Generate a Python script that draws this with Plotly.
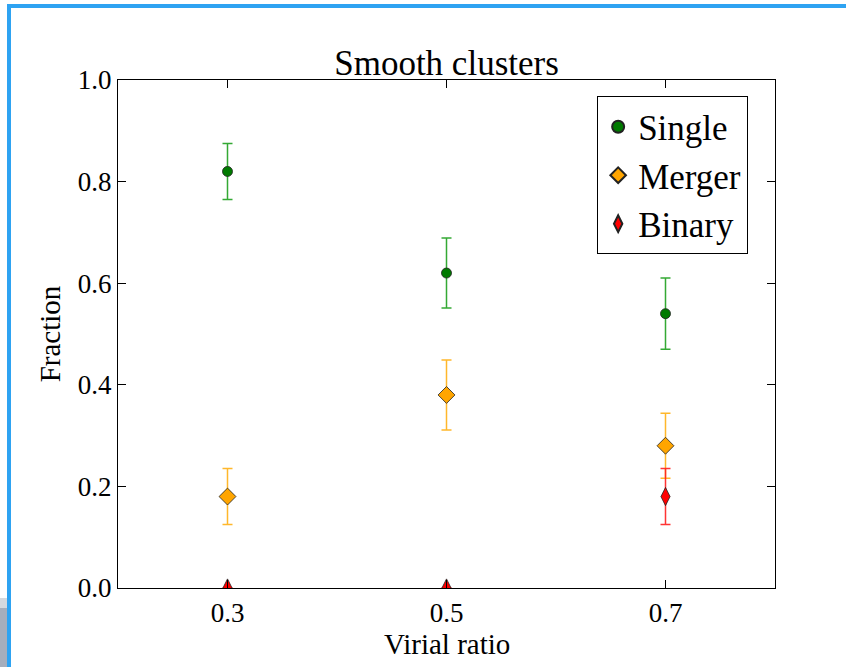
import plotly.graph_objects as go

virial = [0.3, 0.5, 0.7]
single = [0.82, 0.62, 0.54]
single_err = [0.055, 0.069, 0.07]
merger = [0.18, 0.38, 0.28]
merger_err = [0.055, 0.069, 0.064]
binary = [0.0, 0.0, 0.18]
binary_err = [0.0, 0.0, 0.055]

series = [
    ("Single", single, single_err, "#007a00", "rgba(30,160,30,0.9)", "circle", 10),
    ("Merger", merger, merger_err, "#FFA500", "rgba(255,175,20,0.9)", "diamond", 13),
    ("Binary", binary, binary_err, "#FF0000", "rgba(255,30,30,0.9)", "diamond-tall", 13),
]

fig = go.Figure()
for i, (name, vals, errs, mc, ec, sym, sz) in enumerate(series):
    fig.add_trace(go.Scatter(
        x=virial, y=vals, name=name, mode="markers",
        legendgroup=name,
        marker=dict(color=mc, symbol=sym, size=sz, line=dict(color="#222", width=0.8)),
        error_y=dict(type="data", array=errs, visible=True, color=ec, thickness=1.5, width=5),
        cliponaxis=True,
    ))

font_family = "Liberation Serif"
axis_common = dict(
    showline=True, linecolor="black", linewidth=1.2, mirror="ticks",
    ticks="inside", ticklen=8, tickwidth=1, tickcolor="black",
    showgrid=False, zeroline=False,
    tickfont=dict(family=font_family, size=27, color="black"),
)

fig.update_layout(
    width=846, height=667,
    margin=dict(l=118, r=71, t=80, b=79),
    paper_bgcolor="white", plot_bgcolor="white",
    title=dict(text="Smooth clusters", x=0.5, xref="paper", xanchor="center",
               y=1, yref="paper", yanchor="bottom", pad=dict(b=5),
               font=dict(family=font_family, size=35, color="black")),
    xaxis=dict(range=[0.2, 0.8], tickvals=virial, ticktext=["0.3", "0.5", "0.7"],
               **axis_common),
    yaxis=dict(range=[0, 1.0], tickvals=[0, 0.2, 0.4, 0.6, 0.8, 1.0],
               ticktext=["0.0", "0.2", "0.4", "0.6", "0.8", "1.0"],
               title=dict(text="Fraction", font=dict(family=font_family, size=29, color="black"), standoff=8),
               **axis_common),
    annotations=[dict(text="Virial ratio", xref="paper", yref="paper", x=0.5, y=-56 / 508,
                      xanchor="center", yanchor="middle", showarrow=False,
                      font=dict(family=font_family, size=29, color="black"))],
    legend=dict(x=0.729, y=0.968, xanchor="left", yanchor="top",
                bordercolor="black", borderwidth=1.2, bgcolor="white",
                font=dict(family=font_family, size=35, color="black"),
                traceorder="grouped", tracegroupgap=0, itemsizing="constant"),
    showlegend=True,
    shapes=[
        dict(type="rect", xref="paper", yref="paper",
             x0=(7 - 118) / 657, x1=(846 - 118) / 657 + 0.01,
             y0=(588 - 4) / 508, y1=(588 - 8) / 508,
             fillcolor="#2EA3F2", line=dict(width=0), layer="above"),
        dict(type="rect", xref="paper", yref="paper",
             x0=(7 - 118) / 657, x1=(11 - 118) / 657,
             y0=(588 - 4) / 508, y1=(588 - 667) / 508,
             fillcolor="#2EA3F2", line=dict(width=0), layer="above"),
        dict(type="rect", xref="paper", yref="paper",
             x0=(0 - 118) / 657 - 0.01, x1=(7 - 118) / 657,
             y0=(588 - 608) / 508, y1=(588 - 667) / 508 - 0.01,
             fillcolor="#A5AEBD", line=dict(width=0), layer="above"),
        dict(type="rect", xref="paper", yref="paper",
             x0=(0 - 118) / 657 - 0.01, x1=(7 - 118) / 657,
             y0=(588 - 598) / 508, y1=(588 - 608) / 508,
             fillcolor="#D5D9DF", line=dict(width=0), layer="above"),
    ],
)

fig.write_html("out.html")
